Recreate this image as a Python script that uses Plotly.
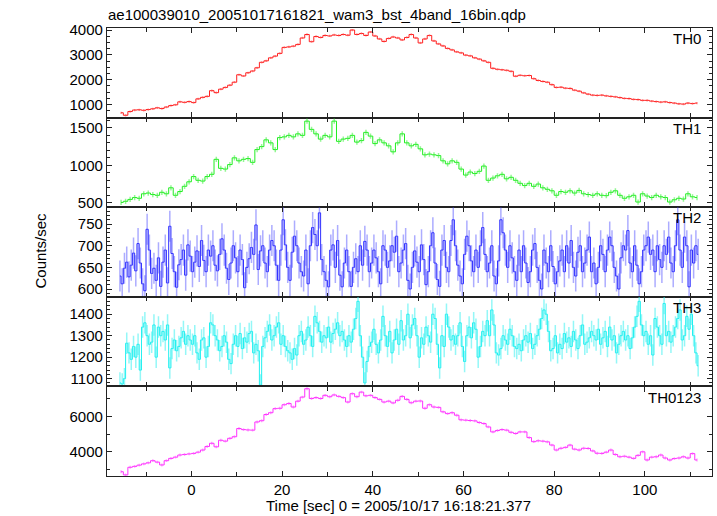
import plotly.graph_objects as go

T0 = -16.0
BIN_1S = 1.0
BIN_HALF = 0.5

TH0 = [670, 570, 720, 780, 790, 770, 800, 830, 870, 840, 900, 960, 990, 1110, 1090, 1120,
       1080, 1230, 1290, 1330, 1560, 1480, 1620, 1690, 1780, 1900, 2200, 2150, 2280, 2350, 2480, 2700,
       2760, 2880, 2950, 3060, 3300, 3320, 3350, 3420, 3680, 3820, 3530, 3740, 3700, 3780, 3760, 3800,
       3780, 3820, 3790, 4000, 3820, 3860, 3780, 3920, 3760, 3640, 3540, 3660, 3720, 3680, 3600, 3700,
       3820, 3680, 3480, 3640, 3780, 3560, 3440, 3360, 3260, 3200, 3120, 3080, 2990, 2960, 2880, 2830,
       2760, 2700, 2460, 2420, 2400, 2380, 2340, 2140, 2180, 2160, 2170, 2040, 1970, 1930, 1900, 1800,
       1690, 1700, 1660, 1650, 1580, 1540, 1470, 1420, 1380, 1370, 1380, 1350, 1330, 1310, 1280, 1250,
       1240, 1210, 1200, 1170, 1170, 1140, 1120, 1100, 1110, 1080, 1060, 1030, 1020, 1060, 1040, 1060]

TH1 = [505, 520, 545, 570, 560, 620, 630, 610, 600, 640, 620, 700, 600, 650, 720, 780,
       850, 800, 790, 850, 880, 1080, 960, 950, 1010, 1100, 1060, 1080, 1090, 1040, 1210, 1250,
       1340, 1300, 1210, 1370, 1380, 1400, 1380, 1420, 1400, 1590, 1480, 1420, 1350, 1400, 1380, 1590,
       1320, 1350, 1360, 1400, 1310, 1330, 1440, 1390, 1290, 1340, 1300, 1260, 1180, 1300, 1420, 1300,
       1260, 1280, 1220, 1140, 1150, 1140, 1130, 1060, 1020, 1060, 1040, 950, 870, 910, 890, 920,
       990, 800, 830, 860, 880, 820, 840, 800, 760, 730, 760, 720, 750, 700, 680, 660,
       600, 650, 640, 660, 630, 665, 620, 610, 600, 620, 600, 595, 640, 660, 600, 560,
       580, 600, 510, 620, 590, 570, 600, 580, 570, 510, 540, 560, 550, 620, 580, 570]

TH2 = [630, 612, 648, 662, 628, 655, 683, 642, 705, 660, 612, 596, 738, 690, 636, 648,
       620, 672, 606, 662, 690, 614, 745, 682, 640, 604, 656, 668, 690, 632, 702, 676,
       640, 662, 688, 652, 712, 666, 640, 690, 676, 700, 655, 642, 680, 716, 690, 648,
       622, 660, 700, 672, 640, 690, 668, 603, 650, 670, 696, 680, 748, 645, 688, 700,
       660, 640, 690, 712, 700, 655, 620, 690, 760, 702, 650, 620, 685, 722, 700, 660,
       640, 630, 690, 612, 700, 742, 726, 700, 776, 668, 640, 620, 605, 690, 702, 650,
       712, 632, 605, 660, 690, 640, 606, 650, 670, 640, 700, 655, 710, 690, 640, 660,
       690, 672, 640, 612, 700, 690, 650, 665, 700, 685, 722, 640, 660, 690, 705, 620,
       600, 650, 688, 662, 640, 702, 668, 610, 640, 700, 730, 660, 622, 606, 690, 712,
       650, 640, 712, 760, 700, 655, 630, 612, 680, 722, 700, 665, 640, 690, 650, 700,
       742, 680, 640, 660, 700, 630, 612, 665, 760, 730, 690, 650, 700, 672, 640, 620,
       690, 640, 700, 660, 615, 640, 690, 705, 650, 620, 600, 690, 660, 640, 700, 652,
       612, 640, 665, 690, 640, 700, 660, 712, 650, 630, 685, 700, 640, 660, 690, 720,
       640, 660, 612, 650, 700, 680, 640, 690, 720, 700, 650, 630, 600, 672, 700, 690,
       735, 660, 640, 700, 655, 612, 640, 690, 700, 720, 680, 690, 640, 700, 668, 650,
       700, 680, 720, 660, 640, 700, 760, 690, 650, 720, 700, 605, 690, 660, 700, 680]

TH3 = [1080, 1075, 1100, 1265, 1220, 1190, 1250, 1200, 1260, 1140, 1340, 1360, 1300, 1260, 1270, 1350,
       1200, 1340, 1300, 1320, 1280, 1350, 1150, 1240, 1280, 1230, 1250, 1290, 1320, 1260, 1300, 1280,
       1260, 1300, 1220, 1190, 1280, 1290, 1200, 1250, 1360, 1350, 1300, 1280, 1230, 1250, 1300, 1270,
       1190, 1170, 1260, 1300, 1250, 1310, 1240, 1290, 1270, 1310, 1320, 1220, 1260, 1230, 1070, 1250,
       1290, 1320, 1350, 1280, 1300, 1340, 1360, 1260, 1300, 1250, 1230, 1220, 1190, 1240, 1210, 1300,
       1320, 1260, 1280, 1340, 1300, 1250, 1390, 1360, 1320, 1270, 1300, 1290, 1340, 1270, 1310, 1330,
       1360, 1300, 1320, 1280, 1250, 1300, 1270, 1330, 1380, 1460, 1300, 1200, 1080, 1180, 1250, 1270,
       1330, 1260, 1220, 1280, 1390, 1300, 1250, 1320, 1220, 1280, 1330, 1260, 1370, 1280, 1300, 1400,
       1290, 1350, 1380, 1300, 1200, 1290, 1260, 1340, 1300, 1270, 1400, 1380, 1260, 1150, 1300, 1250,
       1400, 1340, 1280, 1300, 1260, 1300, 1360, 1250, 1180, 1300, 1340, 1290, 1360, 1330, 1200, 1250,
       1320, 1300, 1370, 1300, 1420, 1350, 1220, 1210, 1240, 1300, 1280, 1260, 1330, 1300, 1250, 1240,
       1260, 1230, 1280, 1300, 1270, 1310, 1240, 1260, 1300, 1330, 1380, 1420, 1400, 1320, 1230, 1240,
       1300, 1220, 1260, 1240, 1310, 1270, 1290, 1250, 1320, 1280, 1240, 1300, 1350, 1260, 1270, 1290,
       1320, 1300, 1280, 1330, 1260, 1290, 1320, 1250, 1340, 1280, 1300, 1220, 1260, 1300, 1320, 1280,
       1300, 1240, 1290, 1340, 1390, 1460, 1350, 1300, 1320, 1260, 1300, 1210, 1380, 1340, 1300, 1260,
       1450, 1300, 1320, 1270, 1300, 1340, 1380, 1420, 1280, 1300, 1390, 1330, 1400, 1300, 1220, 1160]

TH0123 = [2880, 2700, 3130, 3180, 3250, 3320, 3380, 3500, 3420, 3260, 3500, 3630, 3700, 3820, 3850, 3880,
          3910, 3980, 4100, 4300, 4480, 4280, 4650, 4600, 4760, 4850, 5310, 5250, 5230, 5220, 5680, 5750,
          6100, 6200, 6430, 6450, 6650, 6720, 6520, 6850, 7080, 7550, 7000, 7050, 7000, 7180, 7100, 7200,
          7120, 7050, 6800, 7270, 7100, 7360, 7150, 7180, 7050, 6950, 6800, 6850, 6750, 6900, 7120, 6950,
          6760, 6850, 6860, 6450, 6650, 6520, 6500, 6250, 6150, 6200, 6060, 5800, 5780, 5760, 5740, 5650,
          5590, 5400, 5120, 5200, 5250, 5220, 5100, 5030, 5120, 5120, 4800, 4570, 4620, 4600, 4560, 4380,
          4100, 4200, 4250, 4380, 4150, 4100, 4200, 4190, 4050, 3920, 3910, 3980, 4100, 3850, 3720, 3750,
          3700, 3630, 3800, 4000, 3540, 3700, 3720, 3820, 3650, 3540, 3620, 3650, 3720, 3650, 3900, 3540]

PANEL_LABELS = ["TH0", "TH1", "TH2", "TH3", "TH0123"]
TITLE = "ae100039010_20051017161821_wam3_bst_4band_16bin.qdp"
XTITLE = "Time [sec] 0 = 2005/10/17 16:18:21.377"
YTITLE = "Counts/sec"

series = [
    (TH0, BIN_1S, 45, "#ff2020", "rgba(255,60,60,0.5)"),
    (TH1, BIN_1S, 35, "#22ee22", "rgba(60,240,60,0.55)"),
    (TH2, BIN_HALF, 36, "#3030ff", "rgba(70,70,255,0.45)"),
    (TH3, BIN_HALF, 50, "#20f0f0", "rgba(60,240,240,0.55)"),
    (TH0123, BIN_1S, 80, "#ff30ff", "rgba(255,80,255,0.5)"),
]

yranges = [[476, 4081], [441, 1637], [582, 789], [1064, 1481], [2639, 7681]]
ydticks = [1000, 500, 50, 100, 2000]
yminor = [250, 100, 10, 20, 1000]
DOMAINS = [[0.8, 1.0], [0.6, 0.8], [0.4, 0.6], [0.2, 0.4], [0.0, 0.2]]

fig = go.Figure()
for i, (vals, bw, err, col, ecol) in enumerate(series):
    xs = [T0 + (k + 0.5) * bw for k in range(len(vals))]
    fig.add_trace(go.Scatter(
        x=xs, y=vals, mode="lines", line=dict(color=col, width=1, shape="hvh"),
        error_y=dict(type="constant", value=err, color=ecol, thickness=1.5, width=0),
        xaxis="x" if i == 0 else f"x{i+1}", yaxis="y" if i == 0 else f"y{i+1}",
        showlegend=False, hoverinfo="skip"))

font_family = "Liberation Sans, Arial, Helvetica, sans-serif"
layout = dict(
    width=717, height=516,
    margin=dict(l=106.7, r=5.3, t=27.7, b=40, autoexpand=False),
    paper_bgcolor="white", plot_bgcolor="white",
    font=dict(family=font_family, size=15, color="black"),
)
for i in range(5):
    xa = "xaxis" if i == 0 else f"xaxis{i+1}"
    ya = "yaxis" if i == 0 else f"yaxis{i+1}"
    layout[xa] = dict(
        domain=[0, 1], anchor="y" if i == 0 else f"y{i+1}",
        range=[-18.6, 114.8], dtick=20, tick0=0,
        ticks="inside", ticklen=5, tickcolor="#222", tickwidth=1,
        minor=dict(dtick=10, tick0=0, ticks="inside", ticklen=4, tickcolor="#222"),
        showline=True, linecolor="#222", linewidth=1.3, mirror="ticks",
        showgrid=False, zeroline=False, automargin=False,
        showticklabels=(i == 4),
        tickfont=dict(size=15),
    )
    if i < 4:
        layout[xa]["matches"] = "x5"
    layout[ya] = dict(
        domain=DOMAINS[i], anchor="x" if i == 0 else f"x{i+1}",
        range=yranges[i], dtick=ydticks[i],
        ticks="inside", ticklen=5, tickcolor="#222", tickwidth=1,
        minor=dict(dtick=yminor[i], ticks="inside", ticklen=3, tickcolor="#222"),
        showline=True, linecolor="#222", linewidth=1.3, mirror="ticks",
        showgrid=False, zeroline=False, automargin=False, tickfont=dict(size=15),
    )
fig.update_layout(**layout)

ann = []
for i, lab in enumerate(PANEL_LABELS):
    ann.append(dict(text=lab, xref="paper", yref="paper", x=0.9856, y=DOMAINS[i][1] - 0.024,
                    xanchor="right", yanchor="middle", showarrow=False, font=dict(size=15)))
ann.append(dict(text=TITLE, xref="paper", yref="paper", x=-0.002, y=1 + 13.7 / 448.3,
                xanchor="left", yanchor="middle", showarrow=False, font=dict(size=15)))
ann.append(dict(text=XTITLE, xref="paper", yref="paper", x=0.4815, y=-30 / 448.3,
                xanchor="center", yanchor="middle", showarrow=False, font=dict(size=15)))
ann.append(dict(text=YTITLE, xref="paper", yref="paper", x=(40 - 106.7) / 605, y=0.504,
                xanchor="center", yanchor="middle", textangle=-90, showarrow=False, font=dict(size=15)))
fig.update_layout(annotations=ann)

fig.write_html("out.html", config={"displayModeBar": False},
               post_script="document.body.style.margin='0px';document.body.style.padding='0px';")
